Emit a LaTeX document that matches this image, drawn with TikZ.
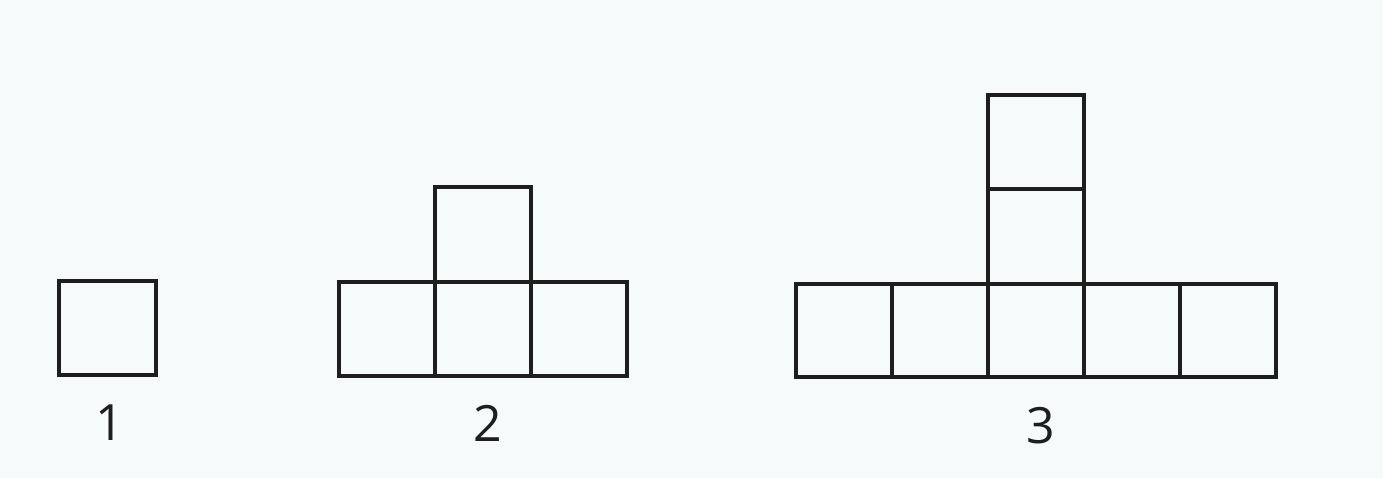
\documentclass[tikz,border=0pt]{standalone}
\usepackage{fontspec}
\setmainfont{Open Sans}
\definecolor{paper}{RGB}{247,250,250}
\definecolor{ink}{RGB}{30,30,30}
\tikzset{
  cell/.style={draw=ink, line width=3.2pt, line join=miter},
  lbl/.style={anchor=base, inner sep=0pt, text=ink, font=\fontsize{50}{50}\selectfont}
}
\begin{document}
\begin{tikzpicture}[x=1pt,y=-1pt]
\fill[paper] (0,0) rectangle (1383,478);
\useasboundingbox (0,0) rectangle (1383,478);
% figure 1
\draw[cell] (59,281) rectangle (156,375);
\node[lbl] (l1) at (110,440) {1};
% figure 2
\draw[cell] (339,282) rectangle (435,376);
\draw[cell] (435,282) rectangle (531,376);
\draw[cell] (531,282) rectangle (627,376);
\draw[cell] (435,187) rectangle (531,282);
\node[lbl] (l2) at (488,441) {2};
% figure 3
\draw[cell] (796,284) rectangle (892,377);
\draw[cell] (892,284) rectangle (988,377);
\draw[cell] (988,284) rectangle (1084,377);
\draw[cell] (1084,284) rectangle (1180,377);
\draw[cell] (1180,284) rectangle (1276,377);
\draw[cell] (988,189) rectangle (1084,284);
\draw[cell] (988,95) rectangle (1084,189);
\node[lbl] (l3) at (1041,443) {3};
\end{tikzpicture}
\end{document}
